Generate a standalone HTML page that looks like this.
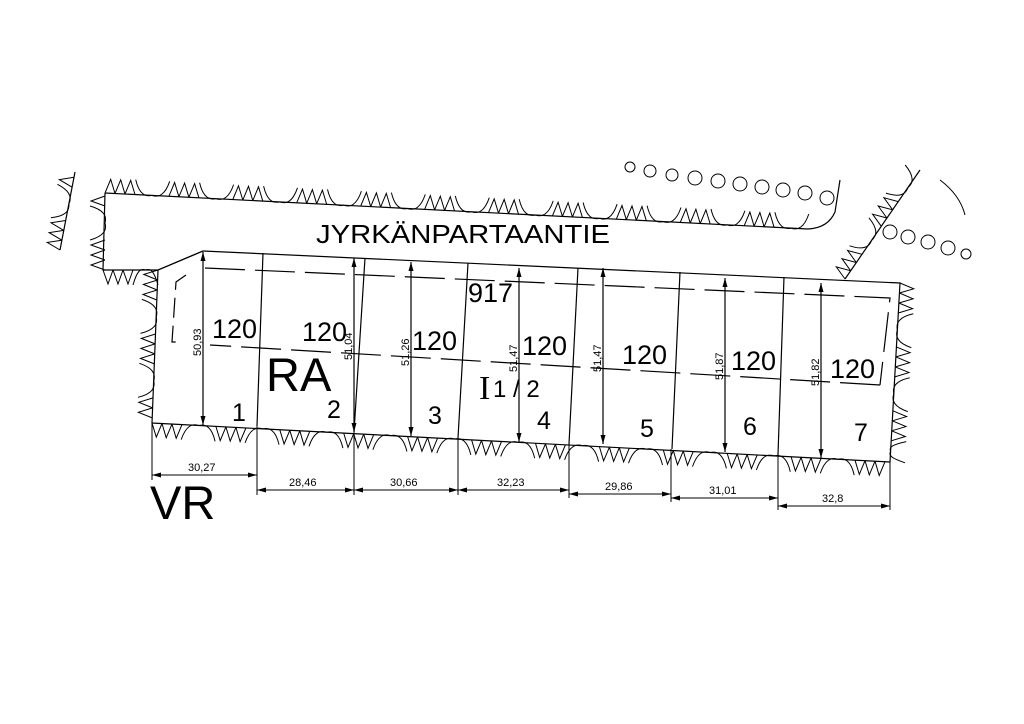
<!DOCTYPE html>
<html><head><meta charset="utf-8"><style>
html,body{margin:0;padding:0;background:#fff;width:1024px;height:724px;overflow:hidden}
svg{display:block}
text{font-family:"Liberation Sans",sans-serif;fill:#000}
</style></head><body>
<svg id="s" width="1024" height="724" viewBox="0 0 1024 724" xmlns="http://www.w3.org/2000/svg">
<g fill="none" stroke="#000" stroke-width="1.2">
<path d="M105,193 L808,229 Q828,228 835,212 L840,180"/>
<path d="M105,193 L103,270 L158,270 L203,251"/>
<path d="M158,270 L152,423 L890,462 L900,283 L203,251 Z"/>
<path d="M845,279 L920,170"/>
<path d="M75,172 L60,250"/>
<path d="M263,253 L257,426 M365,258 L354,432 M468,263 L458,438 M578,268 L569,444 M680,272 L672,449 M784,277 L778,455"/>
<path stroke-dasharray="40,10" d="M205,268 L890,298 L880,385 M880,385 L210,345"/>
<path stroke-dasharray="20,8" d="M186,275 L176,282 L172,342 L178,342"/>
<path d="M203,252 L203,425 M354,258 L354,432 M411,262 L411,436 M519,268 L519,442 M603,268 L603,444 M725,278 L725,452 M821,283 L821,458"/>
<path stroke-width="1" d="M152,423 L152,480 M257,426 L257,495 M354,432 L354,495 M458,438 L458,495 M569,444 L569,498 M671,449 L671,502 M778,455 L778,510 M890,462 L890,510
M152,475 L257,475 M257,490 L354,490 M354,490 L458,490 M458,490 L569,490 M569,494 L671,494 M671,498 L778,498 M778,506 L890,506"/>
</g>
<g id="deco" fill="none" stroke="#000" stroke-width="1"></g>
<g id="arr" fill="#000"></g>
<text x="316" y="243" font-size="26" textLength="294" lengthAdjust="spacingAndGlyphs">JYRKÄNPARTAANTIE</text>
<text x="468" y="302" font-size="27">917</text>
<g font-size="27">
<text x="212" y="338">120</text><text x="302" y="341">120</text><text x="412" y="350">120</text>
<text x="522" y="355">120</text><text x="622" y="364">120</text><text x="731" y="370">120</text><text x="830" y="378">120</text>
</g>
<text x="266" y="391" font-size="47">RA</text>
<text x="479" y="399" font-size="34" style="font-family:'Liberation Serif',serif">I</text>
<text x="493" y="397" font-size="24">1 / 2</text>
<g font-size="25">
<text x="232" y="421">1</text><text x="327" y="418">2</text><text x="428" y="424">3</text><text x="537" y="429">4</text>
<text x="640" y="437">5</text><text x="743" y="435">6</text><text x="854" y="441">7</text>
</g>
<text x="150" y="519" font-size="47">VR</text>
<g font-size="11">
<text x="188" y="471">30,27</text><text x="289" y="486">28,46</text><text x="390" y="486">30,66</text>
<text x="497" y="486">32,23</text><text x="605" y="490">29,86</text><text x="709" y="494">31,01</text><text x="822" y="502">32,8</text>
</g>
<g font-size="11">
<text transform="translate(201,356) rotate(-90)">50,93</text>
<text transform="translate(352,360) rotate(-90)">51,04</text>
<text transform="translate(409,366) rotate(-90)">51,26</text>
<text transform="translate(517,372) rotate(-90)">51,47</text>
<text transform="translate(601,372) rotate(-90)">51,47</text>
<text transform="translate(723,380) rotate(-90)">51,87</text>
<text transform="translate(819,386) rotate(-90)">51,82</text>
</g>
</svg>
<script>
var ns="http://www.w3.org/2000/svg",g=document.getElementById('deco'),a=document.getElementById('arr');
function P(d){var p=document.createElementNS(ns,'path');p.setAttribute('d',d);return p;}
function deco(x1,y1,x2,y2,s){var dx=x2-x1,dy=y2-y1,L=Math.hypot(dx,dy),ux=dx/L,uy=dy/L,nx=-uy*s,ny=ux*s,t=0,k=0,d='';
 function pt(tt,h){return (x1+ux*tt+nx*h).toFixed(1)+','+(y1+uy*tt+ny*h).toFixed(1);}
 while(t<L-10){ if(k%2==0){ for(var i=0;i<3&&t+10<=L;i++){d+='M'+pt(t,0)+'L'+pt(t+5,14)+'L'+pt(t+10,0);t+=10;} }
 else { var w=Math.min(34,L-t);d+='M'+pt(t,15)+'C'+pt(t+4,1)+' '+pt(t+w*0.3,-2)+' '+pt(t+w/2,0)+'C'+pt(t+w*0.7,-2)+' '+pt(t+w-4,1)+' '+pt(t+w,15);t+=w;} k++;}
 g.appendChild(P(d));}
deco(105,193,808,229,-1);
deco(105,270,105,193,-1);
deco(103,270,158,270,1);
deco(158,270,152,423,1);
deco(152,423,890,462,1);
deco(900,283,890,462,-1);
deco(845,279,920,170,-1);
deco(60,250,75,172,-1);
function circ(x,y,r){var c=document.createElementNS(ns,'circle');c.setAttribute('cx',x);c.setAttribute('cy',y);c.setAttribute('r',r);g.appendChild(c);}
[[630,167,5],[650,171,6],[672,175,6],[695,178,7],[718,181,7],[740,184,7],[762,187,7],[783,190,7],[805,193,7],[827,198,7],[890,232,7],[908,237,7],[928,242,7],[948,248,7],[966,254,5]].forEach(function(c){circ(c[0],c[1],c[2]);});
g.appendChild(P('M940,180 Q960,195 965,215'));
function ar(x,y,dx,dy){var px=-dy,py=dx;a.appendChild(P('M'+x+','+y+'L'+(x-dx*9+px*2.5)+','+(y-dy*9+py*2.5)+'L'+(x-dx*9-px*2.5)+','+(y-dy*9-py*2.5)+'Z'));}
[[203,252,425],[354,258,432],[411,262,436],[519,268,442],[603,268,444],[725,278,452],[821,283,458]].forEach(function(v){ar(v[0],v[1],0,-1);ar(v[0],v[2],0,1);});
[[152,257,475],[257,354,490],[354,458,490],[458,569,490],[569,671,494],[671,778,498],[778,890,506]].forEach(function(h){ar(h[0],h[2],-1,0);ar(h[1],h[2],1,0);});
</script>
</body></html>
